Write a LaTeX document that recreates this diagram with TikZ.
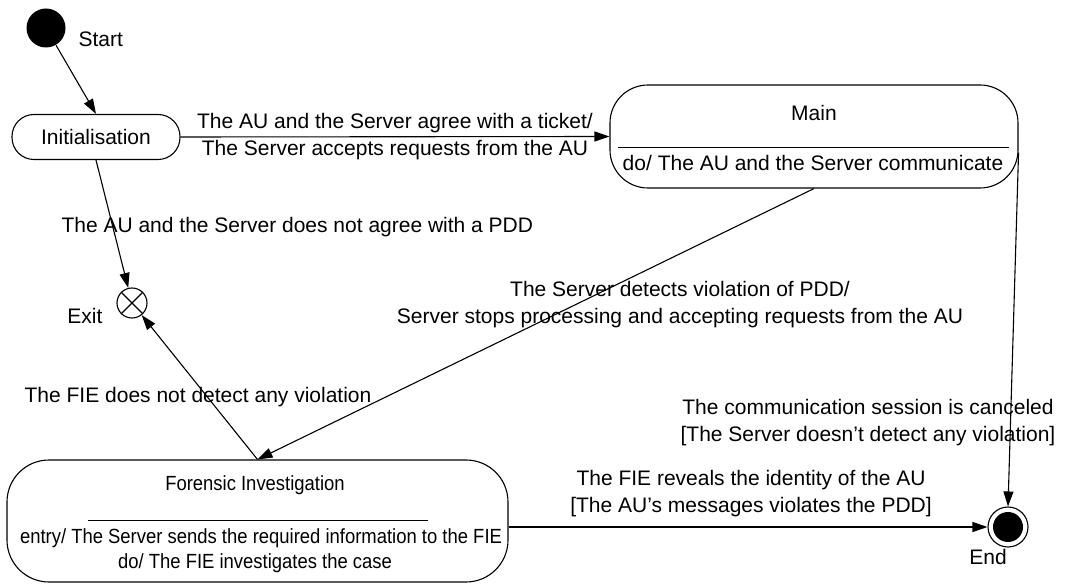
\documentclass[tikz,border=0pt]{standalone}
\usepackage{fontspec}
\setmainfont{Liberation Sans}
\usetikzlibrary{positioning,arrows.meta,calc}

\begin{document}
\begin{tikzpicture}[x=1pt,y=-1pt,line width=1.1pt,
        every node/.style={font=\fontsize{21}{27}\selectfont},
        state/.style={draw,rounded corners=#1,inner sep=0pt},
        trans/.style={-{Triangle[length=15pt,width=10pt]}},
        lbl/.style={align=center,inner sep=0pt},
        fitext/.style={lbl,font=\fontsize{20.5}{25}\selectfont,xscale=0.9,transform shape}]
        \useasboundingbox (0,0) rectangle (1069,585);
        \def\sepw{0.8pt}
        % states
        \node[circle,fill=black,minimum size=39pt,inner sep=0pt] (start) at (46,28) {};
        \node[lbl,anchor=west] (startlbl) at (78,39) {Start};
        \node[state=22pt,minimum width=168pt,minimum height=45pt] (init) at (96,137) {Initialisation};
        \node[state=38pt,minimum width=408pt,minimum height=103pt] (main) at (814,136.5) {};
        \node[lbl] (maintitle) at (814,113) {Main};
        \node[lbl] (maindo) at (813,163) {do/ The AU and the Server communicate};
        \draw[line width=\sepw] ($(main.west)+(9,10.5)$) -- ($(main.east)+(-10,10.5)$);
        \node[state=42pt,minimum width=501pt,minimum height=122pt] (fi) at (257.5,521) {};
        \node[fitext] (fititle) at (255,485) {Forensic Investigation};
        \node[fitext] (fientry) at (261,538) {entry/ The Server sends the required information to the FIE};
        \node[fitext] (fido) at (255,563) {do/ The FIE investigates the case};
        \draw[line width=\sepw] (88,520) -- (428,520);
        \node[circle,draw,minimum size=30pt,inner sep=0pt] (exit) at (132,303) {};
        \draw (exit.north west) -- (exit.south east) (exit.north east) -- (exit.south west);
        \node[lbl,anchor=east] (exitlbl) at (103,316) {Exit};
        \node[circle,draw,minimum size=40pt,inner sep=0pt] (endst) at (1008,527) {};
        \fill (endst.center) circle (15pt);
        \node[lbl] (endlbl) at (988,557) {End};
        % transitions
        \draw[trans] (start) -- (init.north);
        \draw[trans] (init.east) -- (main.west) node[lbl,midway] (agreelbl) {The AU and the Server agree with a ticket/\\The Server accepts requests from the AU};
        \draw[trans] (init.south) -- (exit);
        \node[lbl,anchor=west] (pddlbl) at (61,227) {The AU and the Server does not agree with a PDD};
        \draw[trans] (main.south) -- (fi.north);
        \node[lbl] (violbl) at (680,305) {The Server detects violation of PDD/\\Server stops processing and accepting requests from the AU};
        \draw[trans] (fi.north) -- (exit);
        \node[lbl] (fielbl) at (198,397) {The FIE does not detect any violation};
        \draw[trans] (fi.east |- endst) -- (endst);
        \node[lbl] (reveallbl) at (751,494) {The FIE reveals the identity of the AU\\{}[The AU's messages violates the PDD]};
        \draw[trans] ([yshift=-16pt]main.east) -- (endst.north);
        \node[lbl] (cancellbl) at (868,423) {The communication session is canceled\\{}[The Server doesn't detect any violation]};
\end{tikzpicture}
\end{document}
